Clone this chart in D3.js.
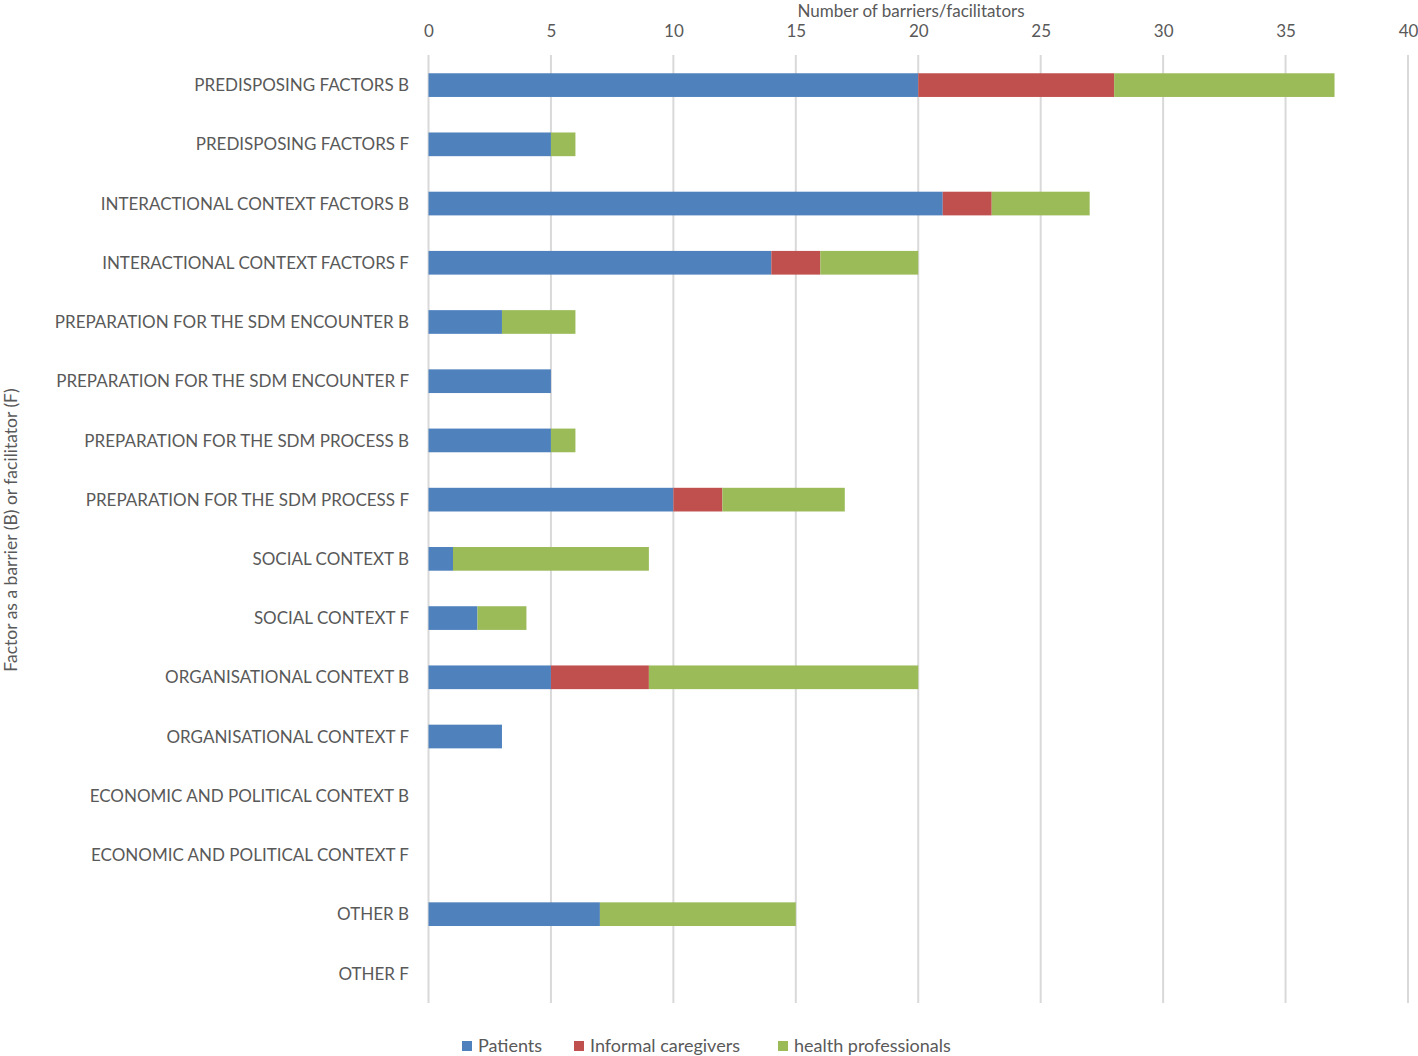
<!DOCTYPE html>
<html><head><meta charset="utf-8">
<script src="https://cdn.jsdelivr.net/npm/d3@7"></script>
<style>body{margin:0;background:#fff}svg{display:block}text{font-family:Lato,"Open Sans",sans-serif;fill:#595959}</style>
</head><body><svg id="c" width="1418" height="1056"></svg>
<script>
const categories = ["PREDISPOSING FACTORS B","PREDISPOSING FACTORS F","INTERACTIONAL CONTEXT FACTORS B","INTERACTIONAL CONTEXT FACTORS F","PREPARATION FOR THE SDM ENCOUNTER B","PREPARATION FOR THE SDM ENCOUNTER F","PREPARATION FOR THE SDM PROCESS B","PREPARATION FOR THE SDM PROCESS F","SOCIAL CONTEXT B","SOCIAL CONTEXT F","ORGANISATIONAL CONTEXT B","ORGANISATIONAL CONTEXT F","ECONOMIC AND POLITICAL CONTEXT B","ECONOMIC AND POLITICAL CONTEXT F","OTHER B","OTHER F"];
const patients = [20,5,21,14,3,5,5,10,1,2,5,3,0,0,7,0];
const caregivers = [8,0,2,2,0,0,0,2,0,0,4,0,0,0,0,0];
const professionals = [9,1,4,4,3,0,1,5,8,2,11,0,0,0,8,0];
const seriesNames = ["Patients","Informal caregivers","health professionals"];
const colors = ["#4f81bd","#c0504d","#9bbb59"];
const xTicks = [0,5,10,15,20,25,30,35,40];

const svg = d3.select("#c");
const x = d3.scaleLinear().domain([0,40]).range([428.5,1408]);
const y = d3.scaleBand().domain(categories).range([55.5,1003]).paddingInner(0.6).paddingOuter(0.3);

svg.append("g").selectAll("line").data(xTicks).join("line")
  .attr("x1",d=>x(d)).attr("x2",d=>x(d)).attr("y1",55).attr("y2",1003)
  .attr("stroke","#d9d9d9").attr("stroke-width",2);

const ax = svg.append("g").attr("transform","translate(0,55)").call(d3.axisTop(x).tickValues(xTicks).tickSize(0).tickPadding(18));
ax.select(".domain").remove();
ax.selectAll("text").style("font-size","17px").attr("fill","#595959").style("font-family","Lato, sans-serif");

const data = categories.map((c,i)=>({cat:c,Patients:patients[i],"Informal caregivers":caregivers[i],"health professionals":professionals[i]}));
const stack = d3.stack().keys(seriesNames)(data);
svg.append("g").selectAll("g").data(stack).join("g").attr("fill",(d,i)=>colors[i])
  .selectAll("rect").data(d=>d).join("rect")
  .attr("x",d=>x(d[0])).attr("width",d=>x(d[1])-x(d[0]))
  .attr("y",d=>y(d.data.cat)).attr("height",y.bandwidth());

svg.append("g").selectAll("text").data(categories).join("text")
  .attr("x",409).attr("y",d=>y(d)+y.bandwidth()/2).attr("dy","0.36em")
  .attr("text-anchor","end").style("font-size","17px").text(d=>d);

svg.append("text").attr("x",911).attr("y",17).attr("text-anchor","middle").style("font-size","17px").text("Number of barriers/facilitators");
svg.append("text").attr("transform","translate(17,530) rotate(-90)").attr("text-anchor","middle").style("font-size","17.5px").text("Factor as a barrier (B) or facilitator (F)");

const legX = [462,574,778];
const lg = svg.append("g").selectAll("g").data(seriesNames).join("g").attr("transform",(d,i)=>`translate(${legX[i]},1046)`);
lg.append("rect").attr("x",0).attr("y",-5).attr("width",10).attr("height",10).attr("fill",(d,i)=>colors[i]);
lg.append("text").attr("x",16).attr("dy","0.36em").style("font-size","18px").text(d=>d);
</script></body></html>
